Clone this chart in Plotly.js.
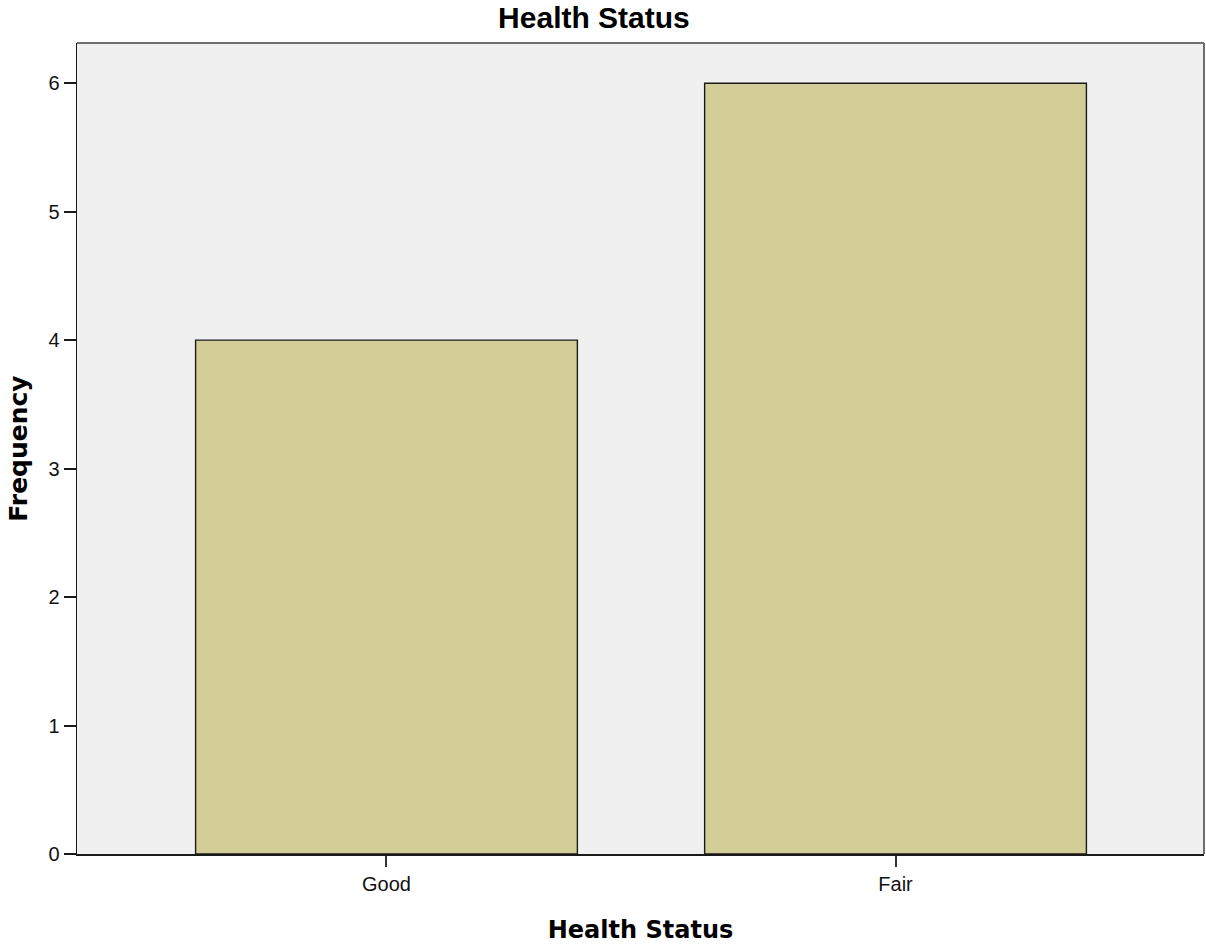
<!DOCTYPE html>
<html>
<head>
<meta charset="utf-8">
<script src="https://cdn.plot.ly/plotly-3.0.1.min.js"></script>
<style>html,body{margin:0;padding:0;background:#fff}#chart{width:1206px;height:945px}</style>
</head>
<body>
<div id="chart"></div>
<script>
const categories = ["Good", "Fair"];
const frequencies = [4, 6];
const yTicks = [0, 1, 2, 3, 4, 5, 6];

const trace = {
  type: "bar",
  x: categories,
  y: frequencies,
  width: 0.75,
  marker: {color: "#d3ce98", line: {color: "#1a1a1a", width: 1.4}},
  hoverinfo: "x+y"
};

const layout = {
  width: 1206, height: 945,
  margin: {l: 77, r: 2, t: 43, b: 91, pad: 0},
  paper_bgcolor: "#ffffff",
  plot_bgcolor: "#f0f0f0",
  font: {family: "Liberation Sans, Arial, sans-serif", color: "#000"},
  title: {text: "<b>Health Status</b>", x: 0.4925, xanchor: "center", y: 0.981, yanchor: "middle",
          font: {size: 30, family: "Liberation Sans, Arial, sans-serif", color: "#000"}},
  xaxis: {
    type: "category",
    range: [-0.608, 1.606],
    showgrid: false, zeroline: false,
    showline: true, linecolor: "#1a1a1a", linewidth: 1.5,
    ticks: "outside", ticklen: 11, tickwidth: 2, tickcolor: "#333",
    tickfont: {size: 20, color: "#111"},
    title: {text: "<b>Health Status</b>", font: {size: 24, family: "DejaVu Sans, Verdana, sans-serif", color: "#000"}, standoff: 27}
  },
  yaxis: {
    range: [0, 6.313],
    tickvals: yTicks,
    showgrid: false, zeroline: false,
    showline: true, linecolor: "#1a1a1a", linewidth: 1.5,
    ticks: "outside", ticklen: 12, tickwidth: 2, tickcolor: "#1a1a1a",
    tickfont: {size: 20, color: "#111"},
    title: {text: "<b>Frequency</b>", font: {size: 25, family: "DejaVu Sans, Verdana, sans-serif", color: "#000"}, standoff: 13}
  },
  shapes: [
    {type: "line", xref: "x domain", yref: "y domain", x0: 0, x1: 1, y0: 1, y1: 1,
     line: {color: "#6e6e6e", width: 2}},
    {type: "line", xref: "x domain", yref: "y domain", x0: 1, x1: 1, y0: 0, y1: 1,
     line: {color: "#6e6e6e", width: 2}}
  ],
  showlegend: false,
  bargap: 0.25
};

Plotly.newPlot("chart", [trace], layout, {displayModeBar: false, staticPlot: true});
</script>
</body>
</html>
